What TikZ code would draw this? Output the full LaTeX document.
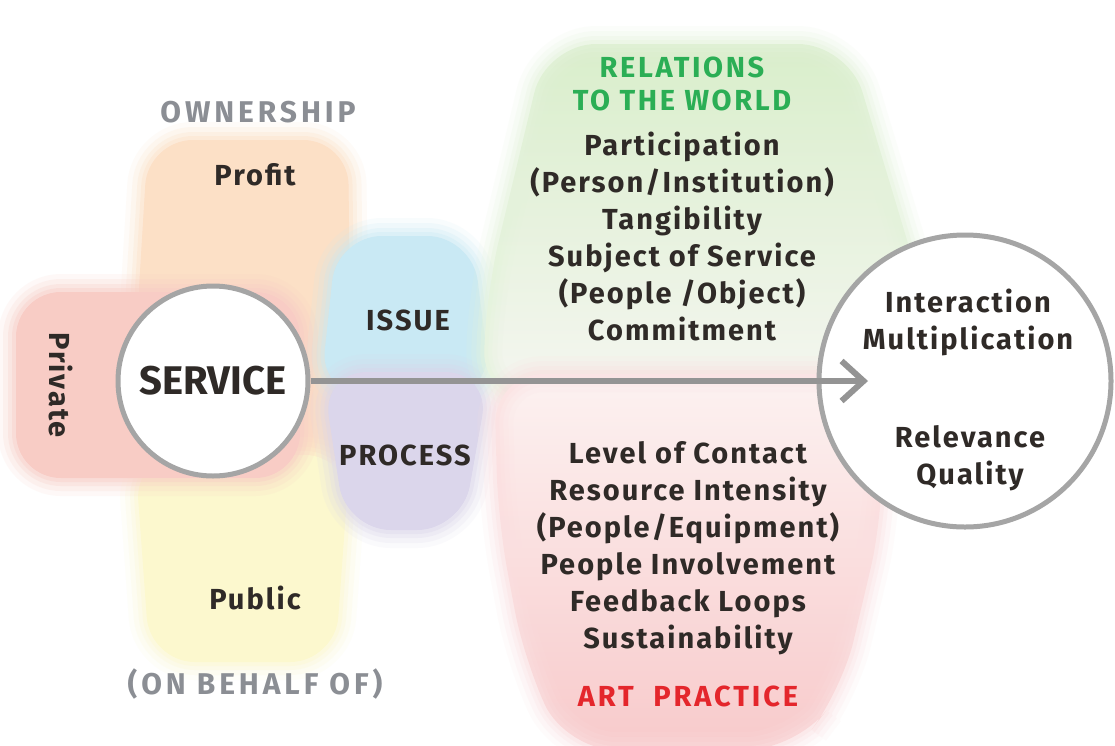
\documentclass[tikz,border=0pt]{standalone}
\usepackage{fontspec}
\setmainfont{Fira Sans}
\usetikzlibrary{arrows.meta,positioning}

\definecolor{ink}{HTML}{2F2A27}
\definecolor{inkgray}{HTML}{8B8E94}
\definecolor{rimgray}{HTML}{A5A5A5}
\definecolor{worldgreen}{HTML}{2BAE55}
\definecolor{artred}{HTML}{E4262C}
\definecolor{profitorange}{HTML}{FCE0C6}
\definecolor{privatered}{HTML}{F8CCC5}
\definecolor{publicyellow}{HTML}{FCF8CE}
\definecolor{issueblue}{HTML}{C9E9F4}
\definecolor{processviolet}{HTML}{DBD6EB}
\definecolor{worldtop}{HTML}{D9EECB}
\definecolor{worldbottom}{HTML}{F5F6F1}
\definecolor{arttop}{HTML}{FCF2F1}
\definecolor{artbottom}{HTML}{F8CACB}

\begin{document}
\begin{tikzpicture}[x=1pt,y=-1pt,>={Straight Barb[length=22pt,width=40pt]},
  txt/.style={text=ink,font=\fontsize{29}{37}\selectfont\bfseries\addfontfeatures{LetterSpace=7},
    align=center,inner sep=0pt},
  head/.style={txt,text=inkgray,font=\fontsize{30}{37}\selectfont\bfseries\addfontfeatures{LetterSpace=13}},
  ring/.style={circle,draw=rimgray,line width=5pt,fill=white,inner sep=0pt},
  halo/.style={
    postaction={draw=#1,line width=36pt,draw opacity=.12},
    postaction={draw=#1,line width=26pt,draw opacity=.18},
    postaction={draw=#1,line width=16pt,draw opacity=.25},
    postaction={draw=#1,line width=8pt,draw opacity=.35}},
  blob/.style={rounded corners=45pt,fill=#1,halo=#1}]
\useasboundingbox[fill=white] (0,0) rectangle (1115,745);
% soft coloured fields behind the labels
\path[blob=profitorange] (128,470) -- (148,140) -- (348,140) -- (352,470) -- cycle;
\path[blob=publicyellow] (135,455) -- (350,455) -- (335,662) -- (150,662) -- cycle;
\path[blob=privatered] (16,292) -- (300,292) -- (300,478) -- (16,478) -- cycle;
\path[blob=issueblue] (320,395) -- (337,236) -- (472,236) -- (492,395) -- cycle;
\path[blob=processviolet] (322,372) -- (490,372) -- (462,530) -- (346,530) -- cycle;
\shade[rounded corners=50pt,top color=worldtop,bottom color=worldbottom,halo=worldtop!70!white]
  (482,400) -- (487,290) -- (546,44) -- (848,44) -- (922,290) -- (922,400) -- cycle;
\shade[rounded corners=50pt,top color=arttop,bottom color=artbottom,halo=artbottom!60!white]
  (494,374) -- (882,374) -- (882,520) -- (842,690) -- (796,750) -- (566,750) -- (524,660) -- (498,520) -- cycle;
% circles and the main arrow
\node[ring,minimum size=292pt] (outcome) at (965,381) {};
\node[ring,txt,font=\fontsize{40}{46}\selectfont\bfseries,minimum size=190pt] (service) at (213,381) {SERVICE};
\coordinate (tip) at (868,381);
\draw[->,draw=rimgray!90!black,line width=6pt] (service) -- (tip);
% labels
\node[head] (ownership) at (258,112) {OWNERSHIP};
\node[txt] (profit) at (255,175) {Profit};
\node[txt,rotate=-90] (private) at (61,385) {Private};
\node[txt] (public) at (255,598) {Public};
\node[head] (behalf) at (255,684) {(ON BEHALF OF)};
\node[txt] (issue) at (408,320) {ISSUE};
\node[txt] (process) at (405,455) {PROCESS};
\node[txt] (world) at (682,236) {Participation\\(Person/Institution)\\Tangibility\\Subject of Service\\(People /Object)\\Commitment};
\node[txt,text=worldgreen,font=\fontsize{29}{33}\selectfont\bfseries\addfontfeatures{LetterSpace=9},
  above=20pt of world] (relations) {RELATIONS\\TO THE WORLD};
\node[txt] (practice) at (688,548) {Level of Contact\\Resource Intensity\\(People/Equipment)\\People Involvement\\Feedback Loops\\Sustainability};
\node[txt,text=artred,font=\fontsize{29}{37}\selectfont\bfseries\addfontfeatures{LetterSpace=10},
  below=31pt of practice] (art) {ART\ \ PRACTICE};
\node[txt,above=25pt of outcome.center,xshift=3pt] (interaction) {Interaction\\Multiplication};
\node[txt,below=44pt of outcome.center,xshift=5pt] (relevance) {Relevance\\Quality};
\end{tikzpicture}
\end{document}
